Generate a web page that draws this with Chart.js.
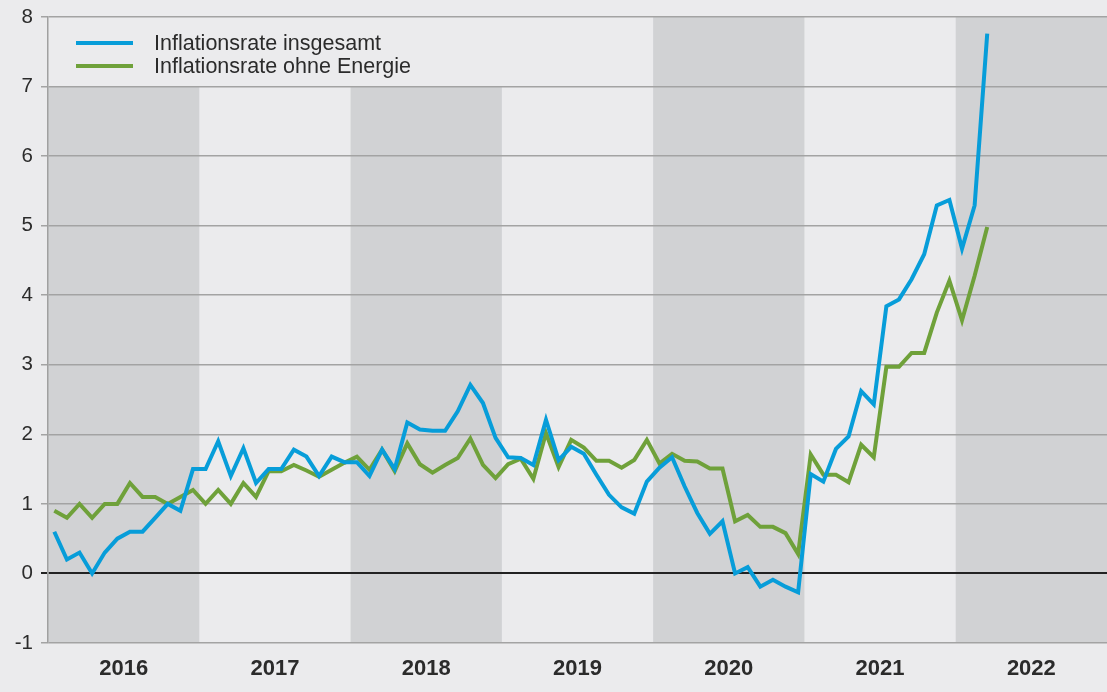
<!DOCTYPE html>
<html>
<head>
<meta charset="utf-8">
<script src="https://cdn.jsdelivr.net/npm/chart.js@4/dist/chart.umd.min.js"></script>
<style>
  html, body { margin: 0; padding: 0; background: #ebebed; }
  #wrap { width: 1107px; height: 692px; }
</style>
</head>
<body>
<div id="wrap"><canvas id="chart"></canvas></div>
<script>
const years = ['2016', '2017', '2018', '2019', '2020', '2021', '2022']
const shadedYears = ['2016', '2018', '2020', '2022']
const yTicks = [-1, 0, 1, 2, 3, 4, 5, 6, 7, 8]
const seriesNames = ['Inflationsrate insgesamt', 'Inflationsrate ohne Energie']

// monthly values, Jan 2016 - Mar 2022
const inflationTotal = [
    0.6, 0.2, 0.3, 0.0, 0.3, 0.5, 0.6, 0.6, 0.8, 1.0, 0.9, 1.5,
    1.5, 1.9, 1.4, 1.8, 1.3, 1.5, 1.5, 1.78, 1.68, 1.4, 1.68, 1.6,
    1.6, 1.4, 1.78, 1.5, 2.17, 2.07, 2.05, 2.05, 2.33, 2.71, 2.45, 1.95,
    1.67, 1.66, 1.56, 2.21, 1.63, 1.82, 1.72, 1.42, 1.13, 0.95, 0.86, 1.32,
    1.52, 1.67, 1.25, 0.87, 0.57, 0.75, 0.0, 0.09, -0.19, -0.09, -0.19, -0.27,
    1.43, 1.32, 1.79, 1.97, 2.62, 2.43, 3.84, 3.94, 4.23, 4.59, 5.29, 5.37,
    4.67, 5.29, 7.76
]
const inflationExEnergy = [
    0.9, 0.8, 1.0, 0.8, 1.0, 1.0, 1.3, 1.1, 1.1, 1.0, 1.1, 1.2,
    1.0, 1.2, 1.0, 1.3, 1.1, 1.47, 1.47, 1.56, 1.48, 1.39, 1.49, 1.59,
    1.68, 1.49, 1.78, 1.47, 1.87, 1.57, 1.45, 1.56, 1.66, 1.94, 1.56, 1.37,
    1.57, 1.65, 1.36, 2.02, 1.53, 1.92, 1.81, 1.62, 1.62, 1.52, 1.63, 1.92,
    1.58, 1.72, 1.62, 1.61, 1.51, 1.51, 0.75, 0.84, 0.67, 0.67, 0.58, 0.28,
    1.71, 1.42, 1.42, 1.31, 1.85, 1.67, 2.97, 2.97, 3.17, 3.17, 3.75, 4.21,
    3.64, 4.28, 4.98
]

const colors = ['#079dd9', '#6fa13a']
const textColor = '#2b2b2b'
const fontFamily = '"Liberation Sans", Arial, sans-serif'

function toPoints(values) {
    let pts = []
    for (let i = 0; i < values.length; i++) {
        pts.push({x: i + 0.5, y: values[i]})
    }
    return pts
}

const backgroundPlugin = {
    id: 'background',
    beforeDraw(chart) {
        const ctx = chart.ctx
        const area = chart.chartArea
        const xs = chart.scales.x
        const ys = chart.scales.y
        ctx.save()
        ctx.fillStyle = '#ebebed'
        ctx.fillRect(0, 0, chart.width, chart.height)
        ctx.fillStyle = '#d1d2d4'
        for (let i = 0; i < years.length; i++) {
            if (!shadedYears.includes(years[i])) continue
            const x0 = xs.getPixelForValue(i * 12)
            const x1 = xs.getPixelForValue((i + 1) * 12)
            ctx.fillRect(x0, area.top, x1 - x0, area.bottom - area.top)
        }
        // legend box keeps the top left light
        ctx.fillStyle = '#ebebed'
        const lx1 = xs.getPixelForValue(45)
        ctx.fillRect(area.left, area.top, lx1 - area.left, ys.getPixelForValue(7) - area.top)
        ctx.restore()
    },
    afterDraw(chart) {
        const ctx = chart.ctx
        const area = chart.chartArea
        ctx.save()
        ctx.font = '21.5px ' + fontFamily
        ctx.textBaseline = 'middle'
        for (let i = 0; i < seriesNames.length; i++) {
            const y = area.top + 26 + i * 23
            ctx.strokeStyle = colors[i]
            ctx.lineWidth = 4
            ctx.beginPath()
            ctx.moveTo(area.left + 28, y)
            ctx.lineTo(area.left + 85, y)
            ctx.stroke()
            ctx.fillStyle = textColor
            ctx.fillText(seriesNames[i], area.left + 106, y + 1)
        }
        ctx.restore()
    }
}

const chart = new Chart(
    document.getElementById('chart'),
    {
        type: 'line',
        data: {
            datasets: [
                {
                    label: seriesNames[0],
                    data: toPoints(inflationTotal),
                    borderColor: colors[0],
                    borderWidth: 4,
                    pointRadius: 0,
                    tension: 0
                },
                {
                    label: seriesNames[1],
                    data: toPoints(inflationExEnergy),
                    borderColor: colors[1],
                    borderWidth: 4,
                    pointRadius: 0,
                    tension: 0
                }
            ]
        },
        options: {
            responsive: true,
            maintainAspectRatio: false,
            animation: false,
            layout: {
                padding: {top: 17, right: 0, left: 0, bottom: 0}
            },
            plugins: {
                legend: {display: false},
                tooltip: {enabled: false}
            },
            scales: {
                x: {
                    type: 'linear',
                    min: 0,
                    max: years.length * 12,
                    grid: {display: false},
                    border: {display: false},
                    afterBuildTicks: (scale) => {
                        scale.ticks = years.map((y, i) => ({value: i * 12 + 6}))
                    },
                    afterFit: (scale) => {
                        scale.height = 49
                        scale.paddingLeft = 0
                        scale.paddingRight = 0
                    },
                    ticks: {
                        autoSkip: false,
                        maxRotation: 0,
                        padding: 5,
                        color: textColor,
                        font: {family: fontFamily, size: 22, weight: 'bold'},
                        callback: (value) => years[Math.floor(value / 12)]
                    }
                },
                y: {
                    min: yTicks[0],
                    max: yTicks[yTicks.length - 1],
                    afterBuildTicks: (scale) => {
                        scale.ticks = yTicks.map(v => ({value: v}))
                    },
                    afterFit: (scale) => {
                        scale.width = 48
                        scale.paddingTop = 0
                        scale.paddingBottom = 0
                    },
                    border: {display: true, color: '#a0a0a0', width: 1.5},
                    grid: {
                        color: (c) => c.tick && c.tick.value === 0 ? '#222222' : '#a3a3a3',
                        lineWidth: (c) => c.tick && c.tick.value === 0 ? 2 : 1.5,
                        tickLength: 7,
                        drawTicks: true
                    },
                    ticks: {
                        padding: 8,
                        color: textColor,
                        font: {family: fontFamily, size: 20.5},
                        callback: (value) => value
                    }
                }
            }
        },
        plugins: [backgroundPlugin]
    }
)
</script>
</body>
</html>
